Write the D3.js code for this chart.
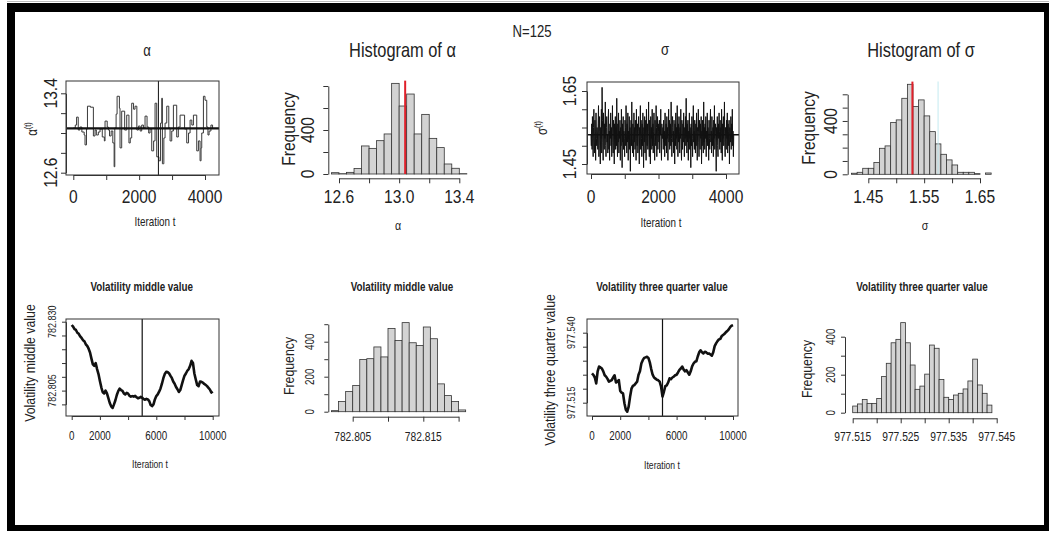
<!DOCTYPE html>
<html>
<head>
<meta charset="utf-8">
<script src="https://cdn.jsdelivr.net/npm/d3@7"></script>
<style>
body { margin: 0; background: #fff; }
svg { display: block; }
</style>
</head>
<body>
<svg id="chart" width="1049" height="534"></svg>
<script>
// ---- data ----
var alphaIter = [0,60,100,150,200,260,330,356,400,430,520,610,660,700,760,812,880,943,964,1030,1065,1100,1150,1200,1240,1260,1300,1330,1400,1419,1470,1560,1622,1690,1730,1774,1830,1875,1930,1977,2030,2078,2130,2179,2240,2290,2331,2382,2440,2483,2534,2600,2650,2686,2706,2750,2787,2838,2900,2939,2990,3040,3141,3190,3243,3380,3445,3500,3547,3600,3648,3749,3800,3850,3880,3901,3952,4000,4053,4090,4124,4180,4230];
var alphaVal = [13.05,13.08,13.16,13.03,13.06,13.01,12.98,12.88,13.04,13.27,13.26,12.97,13.03,12.98,13.01,13.04,12.96,12.92,13.12,13.06,13.03,12.97,13.02,12.90,12.66,13.05,13.19,13.37,13.25,12.85,13.22,13.03,13.18,12.90,12.95,13.30,13.24,13.27,13.03,13.07,13.02,13.08,13.05,13.17,13.06,13.00,13.04,12.82,12.92,13.30,12.76,12.72,13.10,13.35,12.69,12.95,13.10,13.27,13.05,12.92,13.02,13.28,12.96,13.06,13.18,13.04,12.90,13.00,13.13,13.08,13.18,12.82,12.92,12.72,12.85,13.00,13.37,13.33,13.06,12.98,13.02,13.08,13.05];
var alphaMean = 13.047;
var alphaBurn = 2585;

var alphaBinStart = 12.55, alphaBinWidth = 0.05;
var alphaCounts = [12,3,15,50,255,233,303,364,824,618,727,364,542,324,240,91,52,3];
var alphaRed = 13.04;

var sigmaStep = 10.6;
var sigmaVal = [
1.53,1.50,1.56,1.49,1.58,1.52,1.47,1.55,1.60,1.51,
1.48,1.57,1.54,1.46,1.59,1.52,1.50,1.55,1.53,1.49,
1.56,1.61,1.47,1.54,1.58,1.50,1.45,1.55,1.52,1.60,
1.48,1.66,1.57,1.51,1.46,1.59,1.54,1.49,1.56,1.52,
1.62,1.50,1.47,1.55,1.58,1.51,1.53,1.48,1.57,1.60,
1.49,1.54,1.46,1.56,1.52,1.59,1.50,1.55,1.47,1.53,
1.61,1.51,1.48,1.57,1.54,1.45,1.56,1.52,1.58,1.49,
1.55,1.50,1.63,1.53,1.47,1.56,1.51,1.59,1.48,1.54,
1.52,1.57,1.46,1.55,1.50,1.60,1.53,1.44,1.56,1.51,
1.58,1.49,1.54,1.52,1.47,1.57,1.55,1.50,1.61,1.53,
1.48,1.56,1.51,1.59,1.46,1.54,1.52,1.58,1.49,1.55,
1.43,1.53,1.57,1.50,1.62,1.52,1.48,1.56,1.54,1.47,
1.59,1.51,1.55,1.49,1.57,1.53,1.46,1.60,1.52,1.50,
1.56,1.48,1.54,1.58,1.51,1.45,1.55,1.53,1.61,1.49,
1.57,1.52,1.47,1.56,1.50,1.59,1.54,1.44,1.55,1.51,
1.58,1.48,1.53,1.57,1.46,1.60,1.52,1.50,1.56,1.49,
1.54,1.62,1.51,1.47,1.57,1.53,1.45,1.58,1.52,1.55,
1.49,1.60,1.50,1.56,1.48,1.54,1.59,1.51,1.46,1.57,
1.53,1.50,1.61,1.55,1.47,1.52,1.58,1.49,1.56,1.54,
1.51,1.57,1.48,1.55,1.53,1.60,1.50,1.46,1.56,1.52,
1.52,1.55,1.49,1.57,1.51,1.54,1.47,1.59,1.53,1.50,
1.56,1.48,1.58,1.52,1.55,1.46,1.54,1.60,1.51,1.57,
1.49,1.53,1.56,1.50,1.62,1.52,1.47,1.55,1.58,1.51,
1.54,1.48,1.57,1.53,1.45,1.56,1.50,1.59,1.52,1.55,
1.49,1.61,1.53,1.47,1.56,1.51,1.58,1.54,1.48,1.55,
1.52,1.60,1.50,1.46,1.57,1.53,1.49,1.56,1.51,1.59,
1.54,1.47,1.55,1.52,1.58,1.50,1.63,1.53,1.48,1.56,
1.51,1.57,1.46,1.54,1.52,1.59,1.49,1.55,1.53,1.44,
1.56,1.50,1.58,1.52,1.47,1.55,1.61,1.51,1.54,1.49,
1.57,1.53,1.48,1.56,1.50,1.59,1.52,1.46,1.55,1.54,
1.60,1.51,1.47,1.57,1.53,1.49,1.56,1.52,1.58,1.45,
1.54,1.50,1.57,1.53,1.48,1.62,1.51,1.55,1.49,1.56,
1.52,1.58,1.47,1.54,1.51,1.59,1.50,1.55,1.53,1.46,
1.57,1.52,1.49,1.56,1.60,1.51,1.54,1.48,1.58,1.53,
1.50,1.55,1.47,1.57,1.52,1.61,1.49,1.54,1.56,1.51,
1.43,1.55,1.53,1.58,1.50,1.47,1.56,1.52,1.59,1.54,
1.49,1.57,1.51,1.55,1.48,1.60,1.53,1.46,1.56,1.52,
1.58,1.50,1.54,1.62,1.51,1.47,1.55,1.53,1.49,1.57,
1.52,1.59,1.48,1.56,1.54,1.50,1.57,1.45,1.55,1.53,
1.51,1.58,1.49,1.56,1.52,1.60,1.50,1.54,1.47,1.53];
var sigmaMean = 1.53;

var sigmaBinStart = 1.42, sigmaBinWidth = 0.01;
var sigmaCounts = [8,15,45,45,88,195,213,388,408,570,675,508,558,438,320,228,150,108,70,15,15,15,5,0,10];
var sigmaRed = 1.529;
var sigmaCyan = 1.575;

var volStep = 100, volBurn = 5000;
var volMid = [782.8288,782.8282,782.8273,782.8270,782.8260,782.8256,782.8247,782.8241,782.8233,782.8229,
782.8218,782.8212,782.8202,782.8188,782.8166,782.8145,782.8140,782.8150,782.8128,782.8110,
782.8085,782.8062,782.8044,782.8040,782.8050,782.8040,782.8023,782.8005,782.7993,782.7987,
782.8000,782.8015,782.8034,782.8048,782.8057,782.8052,782.8049,782.8040,782.8036,782.8042,
782.8039,782.8031,782.8028,782.8030,782.8028,782.8031,782.8026,782.8022,782.8024,782.8027,
782.8024,782.8019,782.8017,782.8020,782.8018,782.8012,782.7998,782.7994,782.8000,782.8018,
782.8030,782.8036,782.8046,782.8058,782.8075,782.8095,782.8110,782.8118,782.8117,782.8113,
782.8104,782.8096,782.8083,782.8075,782.8063,782.8055,782.8045,782.8052,782.8070,782.8088,
782.8104,782.8112,782.8122,782.8128,782.8140,782.8158,782.8150,782.8112,782.8090,782.8070,
782.8066,782.8083,782.8082,782.8079,782.8074,782.8071,782.8066,782.8060,782.8054,782.8043,782.8047];
var volMidBinStart = 782.802, volMidBinWidth = 0.001;
var volMidCounts = [6,58,115,150,298,303,370,313,476,407,509,394,378,484,417,159,92,58,10];

var vol34 = [977.5255,977.5249,977.5240,977.5219,977.5262,977.5279,977.5276,977.5272,977.5262,977.5248,
977.5243,977.5235,977.5225,977.5228,977.5231,977.5240,977.5248,977.5222,977.5225,977.5231,
977.5192,977.5186,977.5183,977.5148,977.5125,977.5118,977.5136,977.5171,977.5200,977.5210,
977.5213,977.5219,977.5225,977.5250,977.5262,977.5290,977.5302,977.5310,977.5312,977.5314,
977.5310,977.5294,977.5270,977.5250,977.5240,977.5236,977.5232,977.5230,977.5225,977.5207,
977.5172,977.5189,977.5209,977.5212,977.5222,977.5237,977.5234,977.5240,977.5243,977.5248,
977.5250,977.5258,977.5267,977.5272,977.5279,977.5268,977.5262,977.5266,977.5258,977.5250,
977.5262,977.5280,977.5290,977.5296,977.5298,977.5315,977.5330,977.5337,977.5330,977.5326,
977.5332,977.5330,977.5325,977.5326,977.5322,977.5318,977.5330,977.5352,977.5362,977.5370,
977.5376,977.5378,977.5388,977.5392,977.5396,977.5402,977.5406,977.5412,977.5420,977.5425,977.5427];
var vol34BinStart = 977.515, vol34BinWidth = 0.001;
var vol34Counts = [35,46,70,49,49,75,190,260,368,386,474,368,251,123,140,203,356,339,175,81,70,93,102,125,167,282,146,102,40];

// tick values and the ones that carry a label
var iterTicks4k = [0,1000,2000,3000,4000], iterLabels4k = [0,2000,4000];
var alphaTicks = [12.6,12.8,13.0,13.2,13.4], alphaLabels = ["12.6","13.4"];
var alphaHistXLabels = ["12.6","13.0","13.4"];
var alphaFreqTicks = [0,200,400,600,800], alphaFreqLabels = [0,400];
var sigmaTicks = [1.45,1.50,1.55,1.60,1.65], sigmaLabels = ["1.45","1.65"];
var sigmaHistXLabels = ["1.45","1.55","1.65"];
var sigmaFreqTicks = [0,100,200,300,400,500,600], sigmaFreqLabels = [0,400];
var iterTicks10k = [0,2000,4000,6000,8000,10000], iterLabels10k = [0,2000,6000,10000];
var volMidTicks = [782.800,782.805,782.810,782.815,782.820,782.825,782.830], volMidLabels = ["782.805","782.830"];
var volMidHistTicks = [782.805,782.810,782.815,782.820], volMidHistLabels = ["782.805","782.815"];
var volMidFreqTicks = [0,100,200,300,400,500], volMidFreqLabels = [0,200,400];
var vol34Ticks = [977.515,977.520,977.525,977.530,977.535,977.540], vol34Labels = ["977.515","977.540"];
var vol34HistTicks = [977.515,977.520,977.525,977.530,977.535,977.540,977.545], vol34HistLabels = ["977.515","977.525","977.535","977.545"];
var vol34FreqTicks = [0,100,200,300,400], vol34FreqLabels = [0,200,400];

var svg = d3.select("#chart");
var FONT = "'Liberation Sans', Arial, Helvetica, sans-serif";
var INK = "#222";

// narrow text, centred on (x, y)
function txt(x, y, s, size, rot, weight) {
    return svg.append("text")
        .attr("transform", "translate(" + x + "," + y + ") rotate(" + (rot || 0) + ") scale(0.82,1)")
        .attr("text-anchor", "middle")
        .attr("dy", "0.35em")
        .attr("font-family", FONT)
        .attr("font-size", size)
        .attr("font-weight", weight || "normal")
        .attr("fill", INK)
        .text(s);
}

// axis line only from first to last tick, like R
function trimmed(scale, ticks) {
    var a = ticks[0], b = ticks[ticks.length - 1];
    return scale.copy().domain([a, b]).range([scale(a), scale(b)]);
}
function xAxis(scale, ticks, y, len) {
    svg.append("g").attr("transform", "translate(0," + y + ")")
        .call(d3.axisBottom(trimmed(scale, ticks)).tickValues(ticks).tickSize(len).tickSizeOuter(0).tickFormat(""))
        .call(function (g) { g.selectAll("path,line").attr("stroke", "#333"); });
}
function yAxis(scale, ticks, x, len) {
    svg.append("g").attr("transform", "translate(" + x + ",0)")
        .call(d3.axisLeft(trimmed(scale, ticks)).tickValues(ticks).tickSize(len).tickSizeOuter(0).tickFormat(""))
        .call(function (g) { g.selectAll("path,line").attr("stroke", "#333"); });
}
function box(x0, y0, x1, y1) {
    svg.append("rect").attr("x", x0).attr("y", y0).attr("width", x1 - x0).attr("height", y1 - y0)
        .attr("fill", "none").attr("stroke", "#333").attr("stroke-width", 1);
}
function bars(x, y, start, width, counts) {
    svg.append("g").selectAll("rect")
        .data(counts)
        .enter().append("rect")
        .attr("x", function (d, i) { return x(start + i * width); })
        .attr("width", function (d, i) { return x(start + (i + 1) * width) - x(start + i * width); })
        .attr("y", function (d) { return y(d); })
        .attr("height", function (d) { return y(0) - y(d); })
        .attr("fill", "#d3d3d3")
        .attr("stroke", "#333")
        .attr("stroke-width", 0.8);
}

// ---------- panel 1 : alpha trace ----------
var x1 = d3.scaleLinear().domain([0, 4000]).range([73.3, 205]);
var y1 = d3.scaleLinear().domain([12.6, 13.4]).range([172.7, 93.3]);
var alphaPts = alphaIter.map(function (d, i) { return [d, alphaVal[i]]; });
svg.append("path").datum(alphaPts)
    .attr("d", d3.line().x(function (d) { return x1(d[0]); }).y(function (d) { return y1(d[1]); }).curve(d3.curveStepAfter))
    .attr("fill", "none").attr("stroke", "#3a3a3a").attr("stroke-width", 1);
svg.append("line").attr("x1", 66).attr("x2", 219).attr("y1", y1(alphaMean)).attr("y2", y1(alphaMean))
    .attr("stroke", "#111").attr("stroke-width", 2.4);
svg.append("line").attr("x1", x1(alphaBurn)).attr("x2", x1(alphaBurn)).attr("y1", 81).attr("y2", 175)
    .attr("stroke", "#111").attr("stroke-width", 1);
box(66, 81, 219, 175);
xAxis(x1, iterTicks4k, 175, 5);
yAxis(y1, alphaTicks, 66, 5);
iterLabels4k.forEach(function (v) { txt(x1(v), 196, v, 19); });
alphaLabels.forEach(function (v) { txt(50, y1(+v), v, 19, -90); });
txt(147, 50, "α", 16);
txt(155, 222, "Iteration t", 12);
var ya = svg.append("text").attr("transform", "translate(31,129) rotate(-90) scale(0.82,1)")
    .attr("text-anchor", "middle").attr("dy", "0.35em").attr("font-family", FONT).attr("fill", INK);
ya.append("tspan").attr("font-size", 14).text("α");
ya.append("tspan").attr("font-size", 9).attr("dy", "-0.6em").text("(t)");

// ---------- panel 2 : histogram of alpha ----------
var x2 = d3.scaleLinear().domain([12.6, 13.4]).range([339, 459.3]);
var y2 = d3.scaleLinear().domain([0, 800]).range([174, 86]);
bars(x2, y2, alphaBinStart, alphaBinWidth, alphaCounts);
svg.append("line").attr("x1", x2(alphaRed)).attr("x2", x2(alphaRed))
    .attr("y1", y2(0)).attr("y2", y2(d3.max(alphaCounts) * 1.03))
    .attr("stroke", "#e0202a").attr("stroke-width", 2);
xAxis(x2, alphaTicks, 178.3, 5);
yAxis(y2, alphaFreqTicks, 328.3, 5);
alphaHistXLabels.forEach(function (v) { txt(x2(+v), 196, v, 19); });
alphaFreqLabels.forEach(function (v) { txt(307.5, y2(v), v, 19, -90); });
txt(402.5, 49.5, "Histogram of α", 20);
txt(288, 129, "Frequency", 19, -90);
txt(398, 225, "α", 13);

// ---------- panel 3 : sigma trace ----------
var x3 = d3.scaleLinear().domain([0, 4000]).range([591, 726]);
var y3 = d3.scaleLinear().domain([1.45, 1.65]).range([164, 91]);
svg.append("path").datum(sigmaVal)
    .attr("d", d3.line().x(function (d, i) { return x3(i * sigmaStep); }).y(function (d) { return y3(d); }))
    .attr("fill", "none").attr("stroke", "#111").attr("stroke-width", 1);
svg.append("line").attr("x1", 587).attr("x2", 739).attr("y1", y3(sigmaMean)).attr("y2", y3(sigmaMean))
    .attr("stroke", "#111").attr("stroke-width", 1.6);
box(587, 82, 739, 174);
xAxis(x3, iterTicks4k, 174, 5);
yAxis(y3, sigmaTicks, 587, 5);
iterLabels4k.forEach(function (v) { txt(x3(v), 196, v, 19); });
sigmaLabels.forEach(function (v) { txt(569, y3(+v), v, 19, -90); });
txt(665, 49, "σ", 16);
txt(661, 223, "Iteration t", 12);
var ys = svg.append("text").attr("transform", "translate(541,128) rotate(-90) scale(0.82,1)")
    .attr("text-anchor", "middle").attr("dy", "0.35em").attr("font-family", FONT).attr("fill", INK);
ys.append("tspan").attr("font-size", 14).text("σ");
ys.append("tspan").attr("font-size", 9).attr("dy", "-0.6em").text("(t)");
txt(532, 31, "N=125", 16);

// ---------- panel 4 : histogram of sigma ----------
var x4 = d3.scaleLinear().domain([1.45, 1.65]).range([868.3, 980]);
var y4 = d3.scaleLinear().domain([0, 600]).range([174.3, 94.3]);
bars(x4, y4, sigmaBinStart, sigmaBinWidth, sigmaCounts);
svg.append("line").attr("x1", x4(sigmaCyan)).attr("x2", x4(sigmaCyan))
    .attr("y1", y4(0)).attr("y2", y4(d3.max(sigmaCounts) * 1.03))
    .attr("stroke", "#bfe9f0").attr("stroke-width", 1.5).attr("opacity", 0.6);
svg.append("line").attr("x1", x4(sigmaRed)).attr("x2", x4(sigmaRed))
    .attr("y1", y4(0)).attr("y2", y4(d3.max(sigmaCounts) * 1.03))
    .attr("stroke", "#e0202a").attr("stroke-width", 2);
xAxis(x4, sigmaTicks, 178.3, 5);
yAxis(y4, sigmaFreqTicks, 847.7, 5);
sigmaHistXLabels.forEach(function (v) { txt(x4(+v), 196, v, 19); });
sigmaFreqLabels.forEach(function (v) { txt(830, y4(v), v, 19, -90); });
txt(921, 49.5, "Histogram of σ", 20);
txt(808, 128, "Frequency", 19, -90);
txt(925, 225, "σ", 13);

// ---------- panel 5 : volatility middle value trace ----------
var x5 = d3.scaleLinear().domain([0, 10000]).range([71.7, 212.7]);
var y5 = d3.scaleLinear().domain([782.805, 782.830]).range([390.6, 321.7]);
svg.append("path").datum(volMid)
    .attr("d", d3.line().x(function (d, i) { return x5(i * volStep); }).y(function (d) { return y5(d); }))
    .attr("fill", "none").attr("stroke", "#111").attr("stroke-width", 2.6).attr("stroke-linejoin", "round");
svg.append("line").attr("x1", x5(volBurn)).attr("x2", x5(volBurn)).attr("y1", 319).attr("y2", 416)
    .attr("stroke", "#111").attr("stroke-width", 1.2);
box(66, 319, 219, 416);
xAxis(x5, iterTicks10k, 416, 4);
yAxis(y5, volMidTicks, 66, 4);
iterLabels10k.forEach(function (v) { txt(x5(v), 436, v, 12); });
volMidLabels.forEach(function (v) { txt(51.7, y5(+v), v, 11, -90); });
txt(141.7, 287, "Volatility middle value", 12, 0, "bold");
txt(30, 363, "Volatility middle value", 15, -90);
txt(150, 464, "Iteration t", 10.5);

// ---------- panel 6 : histogram of middle value ----------
var x6 = d3.scaleLinear().domain([782.805, 782.815]).range([352.7, 423.3]);
var y6 = d3.scaleLinear().domain([0, 400]).range([411.7, 341.7]);
bars(x6, y6, volMidBinStart, volMidBinWidth, volMidCounts);
xAxis(x6, volMidHistTicks, 416.7, 5);
yAxis(y6, volMidFreqTicks, 328.3, 4);
volMidHistLabels.forEach(function (v) { txt(x6(+v), 437, v, 12.5); });
volMidFreqLabels.forEach(function (v) { txt(310, y6(v), v, 12, -90); });
txt(402, 287, "Volatility middle value", 12, 0, "bold");
txt(289, 366, "Frequency", 15, -90);

// ---------- panel 7 : volatility three quarter value trace ----------
var x7 = d3.scaleLinear().domain([0, 10000]).range([592, 733]);
var y7 = d3.scaleLinear().domain([977.515, 977.540]).range([402.7, 332.7]);
svg.append("path").datum(vol34)
    .attr("d", d3.line().x(function (d, i) { return x7(i * volStep); }).y(function (d) { return y7(d); }))
    .attr("fill", "none").attr("stroke", "#111").attr("stroke-width", 2.6).attr("stroke-linejoin", "round");
svg.append("line").attr("x1", x7(volBurn)).attr("x2", x7(volBurn)).attr("y1", 319).attr("y2", 416)
    .attr("stroke", "#111").attr("stroke-width", 1.2);
box(587, 319, 738, 416);
xAxis(x7, iterTicks10k, 416, 4);
yAxis(y7, vol34Ticks, 587, 4);
iterLabels10k.forEach(function (v) { txt(x7(v), 436, v, 12); });
vol34Labels.forEach(function (v) { txt(571, y7(+v), v, 11, -90); });
txt(662, 287, "Volatility three quarter value", 12, 0, "bold");
txt(550, 370, "Volatility three quarter value", 15, -90);
txt(662, 465, "Iteration t", 10.5);

// ---------- panel 8 : histogram of three quarter value ----------
var x8 = d3.scaleLinear().domain([977.515, 977.545]).range([852.7, 996.7]);
var y8 = d3.scaleLinear().domain([0, 400]).range([412.7, 336.7]);
bars(x8, y8, vol34BinStart, vol34BinWidth, vol34Counts);
xAxis(x8, vol34HistTicks, 418.3, 5);
yAxis(y8, vol34FreqTicks, 845, 4);
vol34HistLabels.forEach(function (v) { txt(x8(+v), 437, v, 12.5); });
vol34FreqLabels.forEach(function (v) { txt(831, y8(v), v, 12, -90); });
txt(922, 287, "Volatility three quarter value", 12, 0, "bold");
txt(807, 369, "Frequency", 15, -90);

// ---------- outer black frame ----------
svg.append("line").attr("x1", 7).attr("x2", 1049).attr("y1", 1.5).attr("y2", 1.5).attr("stroke", "#bbb");
[[7, 3, 1042, 9], [7, 3, 8, 528], [7, 525, 1042, 6], [1044, 3, 5, 528]].forEach(function (r) {
    svg.append("rect").attr("x", r[0]).attr("y", r[1]).attr("width", r[2]).attr("height", r[3]).attr("fill", "#000");
});
</script>
</body>
</html>
